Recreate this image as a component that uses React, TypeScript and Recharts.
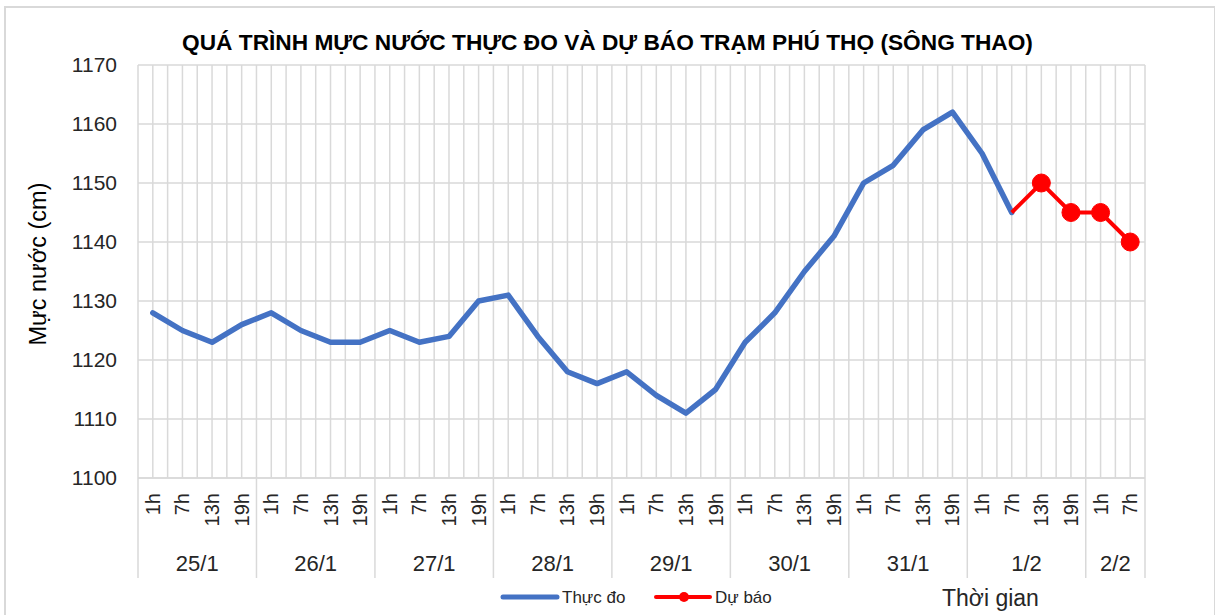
import { CartesianGrid, Line, LineChart, XAxis, YAxis } from 'recharts'

const days = ['25/1', '26/1', '27/1', '28/1', '29/1', '30/1', '31/1', '1/2', '2/2']
const hoursPerDay = [4, 4, 4, 4, 4, 4, 4, 4, 2]
const hourLabels = ['1h', '7h', '13h', '19h']

// Thực đo (measured), one per slot, null where no reading
const measured = [
  1128, 1125, 1123, 1126,
  1128, 1125, 1123, 1123,
  1125, 1123, 1124, 1130,
  1131, 1124, 1118, 1116,
  1118, 1114, 1111, 1115,
  1123, 1128, 1135, 1141,
  1150, 1153, 1159, 1162,
  1155, 1145, null, null,
  null, null,
]

// Dự báo (forecast)
const forecast = [
  null, null, null, null,
  null, null, null, null,
  null, null, null, null,
  null, null, null, null,
  null, null, null, null,
  null, null, null, null,
  null, null, null, null,
  null, 1145, 1150, 1145,
  1145, 1140,
]

const yTicks = [1100, 1110, 1120, 1130, 1140, 1150, 1160, 1170]

const BLUE = '#4472C4'
const RED = '#FF0000'
const GRID = '#d9d9d9'
const TEXT = '#262626'
const FONT = '"Liberation Sans", Arial, sans-serif'

type Row = { key: string; hour: string; day: string; dayStart: boolean; groupLen: number; measured: number | null; forecast: number | null }

const data: Row[] = []
days.forEach((d, di) => {
  for (let h = 0; h < hoursPerDay[di]; h++) {
    const i = data.length
    data.push({
      key: `${d}-${hourLabels[h]}`,
      hour: hourLabels[h],
      day: d,
      dayStart: h === 0,
      groupLen: hoursPerDay[di],
      measured: measured[i],
      forecast: forecast[i],
    })
  }
})

const firstForecast = forecast.findIndex(v => v != null)

// plot area width (1215 - 138 left - 70 right), half a slot padding each side
const HALF_SLOT = (1215 - 138 - 70) / data.length / 2

function AxisTick(props: any) {
  const { x, y, payload, index, width } = props
  const row = data[index ?? payload.index]
  if (!row) return null
  const step = width / data.length
  const left = x - step / 2
  const isLast = index === data.length - 1
  return (
    <g>
      <text
        x={x}
        y={y + 15}
        transform={`rotate(-90 ${x} ${y + 15})`}
        textAnchor="end"
        dominantBaseline="central"
        fontSize={20}
        fontFamily={FONT}
        fill={TEXT}
      >
        {row.hour}
      </text>
      {row.dayStart ? (
        <>
          <line x1={left} x2={left} y1={y} y2={y + 100} stroke={GRID} strokeWidth={1.5} />
          <text
            x={left + (step * row.groupLen) / 2}
            y={y + 93}
            textAnchor="middle"
            fontSize={22}
            fontFamily={FONT}
            fill={TEXT}
          >
            {row.day}
          </text>
        </>
      ) : null}
      {isLast ? <line x1={x + step / 2} x2={x + step / 2} y1={y} y2={y + 100} stroke={GRID} strokeWidth={1.5} /> : null}
    </g>
  )
}

function ForecastDot(props: any) {
  const { cx, cy, index, value } = props
  if (value == null || index === firstForecast) return <g key={`d${index}`} />
  return <circle key={`d${index}`} cx={cx} cy={cy} r={9} fill={RED} stroke={RED} />
}

export default function App() {
  return (
    <div style={{ position: 'absolute', left: 0, top: 0, width: 1215, height: 615, background: '#fff', fontFamily: FONT }}>
      <div style={{ position: 'absolute', left: 4, top: 6, width: 1208, height: 612, border: `2px solid ${GRID}`, borderBottom: 'none' }} />
      <div
        style={{
          position: 'absolute',
          left: 0,
          width: 1215,
          top: 29,
          lineHeight: '26px',
          textAlign: 'center',
          fontSize: 22.7,
          fontWeight: 700,
          color: '#000',
          paddingRight: 4,
        }}
      >
        QUÁ TRÌNH MỰC NƯỚC THỰC ĐO VÀ DỰ BÁO TRẠM PHÚ THỌ (SÔNG THAO)
      </div>
      <div style={{ position: 'absolute', left: 0, top: 0 }}>
        <LineChart width={1215} height={615} data={data} margin={{ top: 65, right: 70, bottom: 37, left: 0 }}>
          <CartesianGrid
            stroke={GRID}
            strokeWidth={1.5}
            horizontal
            vertical
            verticalCoordinatesGenerator={({ offset }: any) =>
              Array.from({ length: data.length * 2 + 1 }, (_, k) => offset.left + (k * offset.width) / (data.length * 2))
            }
          />
          <XAxis
            dataKey="key"
            interval={0}
            height={100}
            padding={{ left: HALF_SLOT, right: HALF_SLOT }}
            tickLine={false}
            tickSize={0}
            tickMargin={0}
            axisLine={{ stroke: GRID, strokeWidth: 1.5 }}
            tick={<AxisTick />}
          />
          <YAxis
            domain={[1100, 1170]}
            ticks={yTicks}
            width={138}
            axisLine={false}
            tickLine={false}
            tickMargin={15}
            tick={{ fontSize: 21, fill: TEXT, fontFamily: FONT }}
            label={{
              content: () => (
                <text
                  x={38}
                  y={264}
                  transform="rotate(-90 38 264)"
                  textAnchor="middle"
                  dominantBaseline="central"
                  fontSize={23.5}
                  fontFamily={FONT}
                  fill="#000"
                >
                  Mực nước (cm)
                </text>
              ),
            }}
          />
          <Line
            dataKey="measured"
            stroke={BLUE}
            strokeWidth={5.5}
            dot={false}
            activeDot={false}
            connectNulls={false}
            isAnimationActive={false}
            strokeLinejoin="round"
            strokeLinecap="round"
          />
          <Line
            dataKey="forecast"
            stroke={RED}
            strokeWidth={4}
            dot={<ForecastDot />}
            activeDot={false}
            isAnimationActive={false}
          />
        </LineChart>
      </div>
      {/* legend */}
      <svg style={{ position: 'absolute', left: 0, top: 585 }} width={800} height={25}>
        <line x1={503} x2={557} y1={12} y2={12} stroke={BLUE} strokeWidth={5} strokeLinecap="round" />
        <text x={562} y={12} dominantBaseline="central" fontSize={17} fontFamily={FONT} fill={TEXT}>
          Thực đo
        </text>
        <line x1={656} x2={710} y1={12} y2={12} stroke={RED} strokeWidth={4} strokeLinecap="round" />
        <circle cx={684} cy={12} r={5} fill={RED} />
        <text x={715} y={12} dominantBaseline="central" fontSize={17} fontFamily={FONT} fill={TEXT}>
          Dự báo
        </text>
      </svg>
      <div style={{ position: 'absolute', left: 942, top: 584, fontSize: 23, lineHeight: '28px', color: TEXT }}>Thời gian</div>
    </div>
  )
}
